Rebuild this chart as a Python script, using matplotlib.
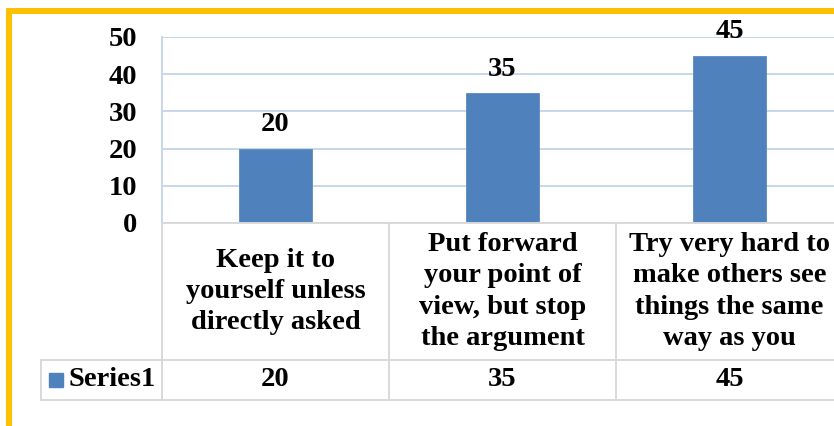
import matplotlib
matplotlib.use("Agg")
import matplotlib.pyplot as plt
from matplotlib.patches import Rectangle
import numpy as np

# chart data
categories = [
    "Keep it to\nyourself unless\ndirectly asked",
    "Put forward\nyour point of\nview, but stop\nthe argument",
    "Try very hard to\nmake others see\nthings the same\nway as you",
]
values = [20, 35, 45]
series_name = "Series1"
y_ticks = [0, 10, 20, 30, 40, 50]

W, H = 834, 426
BAR_BLUE = "#4f81bd"
GRID = "#c8d6ea"
TABLE = "#d9d9d9"
FONT = "Liberation Serif"
FS = 20.5

plt.rcParams["font.family"] = [FONT, "DejaVu Serif"]
plt.rcParams["font.weight"] = "bold"

fig = plt.figure(figsize=(W / 100, H / 100), dpi=100)
fig.patch.set_facecolor("white")


def px_box(left, top, right, bottom):
    # pixel box (from top-left) -> figure fraction rect
    return [left / W, 1 - bottom / H, (right - left) / W, (bottom - top) / H]


# plot area runs a bit past the right edge of the picture
plot_left, plot_right = 162, 843
ax = fig.add_axes(px_box(plot_left, 37, plot_right, 223))
x = np.arange(len(values)) + 0.5
ax.bar(x, values, width=0.32, color=BAR_BLUE, edgecolor="#5b8ac4", linewidth=0.6, zorder=3)
for xi, v in zip(x, values):
    ax.annotate(str(v), (xi, v), xytext=(0, 8), textcoords="offset points",
                ha="center", va="bottom", fontsize=FS, fontweight="bold")

ax.set_xlim(0, len(values))
ax.set_ylim(0, 50)
ax.set_yticks(y_ticks)
ax.set_yticklabels([str(t) for t in y_ticks], fontsize=FS, fontweight="bold")
ax.set_xticks([])
ax.tick_params(axis="y", length=0, pad=18)
ax.yaxis.grid(True, color=GRID, linewidth=1.4, zorder=0)
for s in ["top", "right", "bottom"]:
    ax.spines[s].set_visible(False)
ax.spines["left"].set_color(GRID)
ax.spines["left"].set_linewidth(1.4)

# data table below the plot
tab = fig.add_axes(px_box(plot_left, 223, plot_right, 400))
tab.set_xlim(0, len(values))
tab.set_ylim(177, 0)
tab.axis("off")
cat_w = (plot_right - plot_left) / len(values)
left_edge = (41 - plot_left) / cat_w
row1 = 137

lw = 1.4
tab.plot([0, len(values)], [0, 0], color=TABLE, lw=lw, clip_on=False)
tab.plot([left_edge, len(values)], [row1, row1], color=TABLE, lw=lw, clip_on=False)
tab.plot([left_edge, len(values)], [177, 177], color=TABLE, lw=lw, clip_on=False)
tab.plot([left_edge, left_edge], [row1, 177], color=TABLE, lw=lw, clip_on=False)
for i in range(len(values)):
    tab.plot([i, i], [0, 177], color=TABLE, lw=lw, clip_on=False)

for xi, cat, v in zip(x, categories, values):
    tab.text(xi, row1 / 2, cat, ha="center", va="center", fontsize=FS,
             fontweight="bold", linespacing=1.32, multialignment="center")
    tab.text(xi, (row1 + 177) / 2, str(v), ha="center", va="center",
             fontsize=FS, fontweight="bold")

# legend key in the table
key = (49 - plot_left) / cat_w
tab.add_patch(Rectangle((key, 150), 14 / cat_w, 14, color=BAR_BLUE, clip_on=False))
tab.text((69 - plot_left) / cat_w, (row1 + 177) / 2, series_name, ha="left",
         va="center", fontsize=FS, fontweight="bold")

# orange frame round the chart
fig.add_artist(Rectangle((9 / W, -0.1), 1.2, 1 - 11 / H + 0.1, transform=fig.transFigure,
                         fill=False, edgecolor="#ffc000", linewidth=4.3))

fig.savefig("out.png", dpi=100)
